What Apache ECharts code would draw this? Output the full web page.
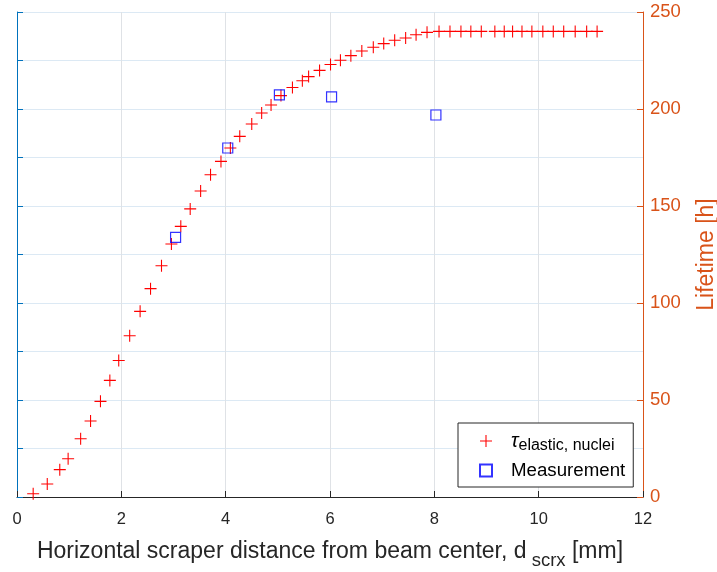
<!DOCTYPE html>
<html>
<head>
<meta charset="utf-8">
<script src="https://cdn.jsdelivr.net/npm/echarts@6/dist/echarts.min.js"></script>
<style>
html,body{margin:0;padding:0;background:#fff;}
#chart{width:717px;height:572px;}
</style>
</head>
<body>
<div id="chart"></div>
<script>
// Simulated lifetime (tau elastic, nuclei)
const tauX = [0.31,0.58,0.82,0.98,1.22,1.41,1.60,1.78,1.95,2.16,2.36,2.56,2.77,2.96,3.14,3.32,3.52,3.71,3.91,4.09,4.27,4.50,4.69,4.87,5.06,5.28,5.47,5.59,5.80,6.01,6.20,6.40,6.61,6.83,7.03,7.24,7.45,7.65,7.86,8.09,8.30,8.51,8.70,8.90,9.16,9.34,9.50,9.68,9.87,10.08,10.28,10.48,10.70,10.92,11.12];
const tauY = [1.7,6.7,14.1,19.7,30.0,39.2,49.3,60.1,70.4,83.1,95.7,107.4,119.2,130.4,139.5,148.5,157.7,166.1,173.0,179.9,185.9,192.3,197.9,202.1,206.9,211.1,214.6,216.7,219.9,222.9,225.1,227.5,229.9,231.8,233.7,235.4,236.6,238.3,239.5,240,240,240,240,240,240,240,240,240,240,240,240,240,240,240,240];
// Measurements
const measX = [3.04,4.04,5.03,6.03,8.03];
const measY = [133.8,179.9,207.3,206.2,196.9];
// Axis settings
const xTicks = [0,2,4,6,8,10,12];
const yTicks = [0,50,100,150,200,250];

const FONT = '"Liberation Sans", Arial, Helvetica, sans-serif';
const crossPath = 'path://M0,4.55H10V5.45H0Z M4.55,0H5.45V10H4.55Z';

const chart = echarts.init(document.getElementById('chart'), null, {renderer:'canvas'});
chart.setOption({
  backgroundColor:'#fff',
  animation:false,
  textStyle:{fontFamily:FONT},
  grid:{left:17,right:74,top:12,bottom:75,containLabel:false,outerBoundsMode:'none'},
  legend:{
    left:458, top:423,
    orient:'vertical',
    backgroundColor:'#fff',
    borderColor:'#262626', borderWidth:1, borderRadius:0,
    padding:[8,8,7,21],
    itemGap:7,
    itemWidth:12, itemHeight:12,
    data:['tau','Measurement'],
    formatter:function(n){ return n==='tau' ? '{t|τ}{s|elastic, nuclei}' : '{m|Measurement}'; },
    textStyle:{
      fontFamily:FONT, color:'#000', padding:[0,0,0,14],
      rich:{
        t:{fontSize:20, fontStyle:'italic', color:'#000', fontFamily:FONT},
        s:{fontSize:16, color:'#000', padding:[10,0,0,0], fontFamily:FONT},
        m:{fontSize:18.7, color:'#000', fontFamily:FONT}
      }
    }
  },
  xAxis:{
    type:'value', min:0, max:12, interval:2,
    name:'{a|Horizontal scraper distance from beam center, d}{b| scrx}{a| [mm]}',
    nameLocation:'middle', nameGap:36,
    nameTextStyle:{rich:{
      a:{fontSize:23, color:'#262626', fontFamily:FONT},
      b:{fontSize:18.5, color:'#262626', padding:[18,0,0,0], fontFamily:FONT}
    }},
    axisLine:{show:true, lineStyle:{color:'#262626', width:1}},
    axisTick:{show:true, inside:true, length:6, lineStyle:{color:'#262626'}},
    axisLabel:{color:'#262626', fontSize:16.5, margin:14, fontFamily:FONT,
      formatter:function(v){ return xTicks.indexOf(v)>=0 ? String(v) : ''; }},
    splitLine:{show:true, lineStyle:{color:'#dfe2e6', width:1}}
  },
  yAxis:[
    {
      type:'value', position:'left', min:0, max:250, interval:25,
      axisLine:{show:true, lineStyle:{color:'#0072BD', width:1}},
      axisTick:{show:true, inside:true, length:6, lineStyle:{color:'#0072BD'}},
      axisLabel:{show:false},
      splitLine:{show:true, lineStyle:{color:'#dce9f4', width:1}}
    },
    {
      type:'value', position:'right', min:0, max:250, interval:50,
      name:'Lifetime [h]', nameLocation:'middle', nameRotate:90, nameGap:52,
      nameTextStyle:{color:'#D95319', fontSize:23, fontFamily:FONT},
      axisLine:{show:true, lineStyle:{color:'#D95319', width:1}},
      axisTick:{show:true, inside:true, length:6, lineStyle:{color:'#D95319'}},
      axisLabel:{color:'#D95319', fontSize:18.5, margin:7, fontFamily:FONT,
        formatter:function(v){ return yTicks.indexOf(v)>=0 ? String(v) : ''; }},
      splitLine:{show:false}
    }
  ],
  series:[
    {
      name:'tau', type:'scatter', yAxisIndex:1,
      symbol:crossPath, symbolSize:12,
      itemStyle:{color:'#ff0000', opacity:1},
      data:tauX.map((x,i)=>[x,tauY[i]]),
      z:3
    },
    {
      name:'Measurement', type:'scatter', yAxisIndex:1,
      symbol:'rect', symbolSize:10,
      itemStyle:{color:'rgba(255,255,255,0)', borderColor:'#0000ff', borderWidth:1.2},
      data:measX.map((x,i)=>[x,measY[i]]),
      z:4
    }
  ]
});
</script>
</body>
</html>
